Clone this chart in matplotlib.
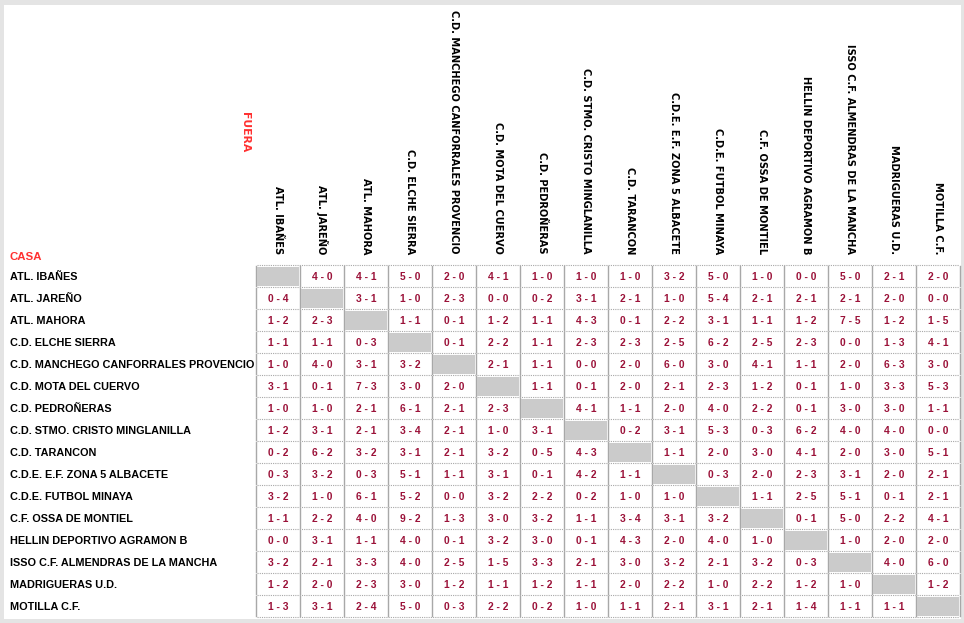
import numpy as np
import matplotlib.pyplot as plt
from matplotlib.patches import Rectangle

#%% Data:
teams = [
    "ATL. IBAÑES", "ATL. JAREÑO", "ATL. MAHORA", "C.D. ELCHE SIERRA",
    "C.D. MANCHEGO CANFORRALES PROVENCIO", "C.D. MOTA DEL CUERVO",
    "C.D. PEDROÑERAS", "C.D. STMO. CRISTO MINGLANILLA", "C.D. TARANCON",
    "C.D.E. E.F. ZONA 5 ALBACETE", "C.D.E. FUTBOL MINAYA",
    "C.F. OSSA DE MONTIEL", "HELLIN DEPORTIVO AGRAMON B",
    "ISSO C.F. ALMENDRAS DE LA MANCHA", "MADRIGUERAS U.D.", "MOTILLA C.F.",
]

# one row per home team (CASA), columns are away teams (FUERA); "" = same team
results = [
    ["", "4-0", "4-1", "5-0", "2-0", "4-1", "1-0", "1-0", "1-0", "3-2", "5-0", "1-0", "0-0", "5-0", "2-1", "2-0"],
    ["0-4", "", "3-1", "1-0", "2-3", "0-0", "0-2", "3-1", "2-1", "1-0", "5-4", "2-1", "2-1", "2-1", "2-0", "0-0"],
    ["1-2", "2-3", "", "1-1", "0-1", "1-2", "1-1", "4-3", "0-1", "2-2", "3-1", "1-1", "1-2", "7-5", "1-2", "1-5"],
    ["1-1", "1-1", "0-3", "", "0-1", "2-2", "1-1", "2-3", "2-3", "2-5", "6-2", "2-5", "2-3", "0-0", "1-3", "4-1"],
    ["1-0", "4-0", "3-1", "3-2", "", "2-1", "1-1", "0-0", "2-0", "6-0", "3-0", "4-1", "1-1", "2-0", "6-3", "3-0"],
    ["3-1", "0-1", "7-3", "3-0", "2-0", "", "1-1", "0-1", "2-0", "2-1", "2-3", "1-2", "0-1", "1-0", "3-3", "5-3"],
    ["1-0", "1-0", "2-1", "6-1", "2-1", "2-3", "", "4-1", "1-1", "2-0", "4-0", "2-2", "0-1", "3-0", "3-0", "1-1"],
    ["1-2", "3-1", "2-1", "3-4", "2-1", "1-0", "3-1", "", "0-2", "3-1", "5-3", "0-3", "6-2", "4-0", "4-0", "0-0"],
    ["0-2", "6-2", "3-2", "3-1", "2-1", "3-2", "0-5", "4-3", "", "1-1", "2-0", "3-0", "4-1", "2-0", "3-0", "5-1"],
    ["0-3", "3-2", "0-3", "5-1", "1-1", "3-1", "0-1", "4-2", "1-1", "", "0-3", "2-0", "2-3", "3-1", "2-0", "2-1"],
    ["3-2", "1-0", "6-1", "5-2", "0-0", "3-2", "2-2", "0-2", "1-0", "1-0", "", "1-1", "2-5", "5-1", "0-1", "2-1"],
    ["1-1", "2-2", "4-0", "9-2", "1-3", "3-0", "3-2", "1-1", "3-4", "3-1", "3-2", "", "0-1", "5-0", "2-2", "4-1"],
    ["0-0", "3-1", "1-1", "4-0", "0-1", "3-2", "3-0", "0-1", "4-3", "2-0", "4-0", "1-0", "", "1-0", "2-0", "2-0"],
    ["3-2", "2-1", "3-3", "4-0", "2-5", "1-5", "3-3", "2-1", "3-0", "3-2", "2-1", "3-2", "0-3", "", "4-0", "6-0"],
    ["1-2", "2-0", "2-3", "3-0", "1-2", "1-1", "1-2", "1-1", "2-0", "2-2", "1-0", "2-2", "1-2", "1-0", "", "1-2"],
    ["1-3", "3-1", "2-4", "5-0", "0-3", "2-2", "0-2", "1-0", "1-1", "2-1", "3-1", "2-1", "1-4", "1-1", "1-1", ""],
]

#%% Layout (pixels):
W, H = 964, 623
X0, Y0 = 257, 266      # top-left of first cell
DX, DY = 44, 22        # cell pitch
CELL_W, CELL_H = 42, 20
SCORE_COLOR = "#9b1239"
LINE_COLOR = "#a8a8a8"

fig = plt.figure(figsize=(W / 100, H / 100), dpi=100, facecolor="#e4e4e4")
ax = fig.add_axes([0, 0, 1, 1])
ax.set_xlim(0, W)
ax.set_ylim(H, 0)
ax.axis("off")

# white panel
ax.add_patch(Rectangle((4, 5), 957, 614, facecolor="white", edgecolor="none", zorder=0))

n = len(teams)

# grid lines
for i in range(n + 1):
    ax.plot([X0, X0 + n * DX - 2], [Y0 - 1 + i * DY] * 2, color=LINE_COLOR,
            lw=0.8, ls=(0, (1, 1)), zorder=2)
for j in range(n + 1):
    x = X0 - 1 + j * DX
    for i in range(n):
        ax.plot([x, x], [Y0 + i * DY, Y0 + i * DY + CELL_H], color=LINE_COLOR,
                lw=1.0, zorder=2)

# cells
for i, row in enumerate(results):
    for j, score in enumerate(row):
        cx = X0 + j * DX
        cy = Y0 + i * DY
        if score == "":
            ax.add_patch(Rectangle((cx, cy + 1), CELL_W, CELL_H - 1,
                                   facecolor="#cbcbcb", edgecolor="none", zorder=3))
        else:
            a, b = score.split("-")
            ax.text(cx + CELL_W / 2, cy + CELL_H / 2 + 0.5, f"{a} - {b}",
                    ha="center", va="center", fontsize=7.4, fontweight="bold",
                    color=SCORE_COLOR, family="Liberation Sans", zorder=4)

# row labels (home)
for i, team in enumerate(teams):
    ax.text(10, Y0 + i * DY + CELL_H / 2 + 0.5, team, ha="left", va="center",
            fontsize=7.8, fontweight="bold", color="black", family="Liberation Sans")

# column labels (away)
for j, team in enumerate(teams):
    ax.text(X0 + j * DX + CELL_W / 2, 254, team, rotation=-90, ha="center",
            va="bottom", fontsize=7.1, fontweight="bold", color="black",
            family="DejaVu Sans")

ax.text(245, 132, "FUERA", rotation=-90, ha="center", va="center", fontsize=7.8,
        fontweight="bold", color="#ff3030", family="DejaVu Sans")
ax.text(10, 257, "CASA", ha="left", va="center", fontsize=8.2,
        fontweight="bold", color="#ff3030", family="Liberation Sans")

fig.savefig("out.png", dpi=100, facecolor=fig.get_facecolor())
